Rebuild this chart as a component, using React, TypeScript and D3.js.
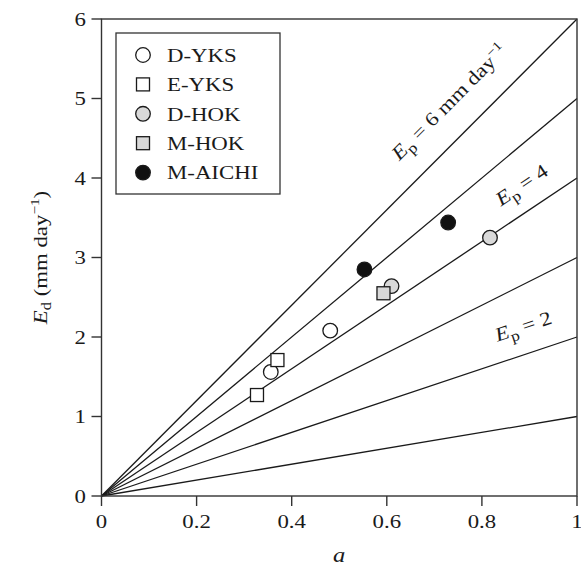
import React from 'react';
import * as d3 from 'd3';

// reference lines Ed = Ep * a
const potentialRates = [1, 2, 3, 4, 5, 6];

// axis ticks
const xTicks = [0, 0.2, 0.4, 0.6, 0.8, 1];
const xTickLabels = ['0', '0.2', '0.4', '0.6', '0.8', '1'];
const yTicks = [0, 1, 2, 3, 4, 5, 6];

// series (legend order)
const seriesNames = ['D-YKS', 'E-YKS', 'D-HOK', 'M-HOK', 'M-AICHI'];
const seriesShapes = ['circle', 'square', 'circle', 'square', 'circle'];
const seriesFills = ['#ffffff', '#ffffff', '#d9d9d9', '#d9d9d9', '#111111'];

const dYksA = [0.356, 0.481];
const dYksE = [1.56, 2.08];
const eYksA = [0.327, 0.37];
const eYksE = [1.27, 1.71];
const dHokA = [0.61, 0.817];
const dHokE = [2.64, 3.25];
const mHokA = [0.593];
const mHokE = [2.55];
const mAichiA = [0.553, 0.729];
const mAichiE = [2.85, 3.44];

const seriesA = [dYksA, eYksA, dHokA, mHokA, mAichiA];
const seriesE = [dYksE, eYksE, dHokE, mHokE, mAichiE];

// line labels: which line, where the text starts (data coords)
const labelRates = [6, 4, 2];
const labelA = [0.626, 0.84, 0.833];
const labelE = [4.21, 3.64, 1.94];
const labelTail = [' = 6 mm day', ' = 4', ' = 2'];
const labelSup = ['\u22121', '', ''];

const FONT = '"Liberation Serif", "Times New Roman", serif';
const STRETCH = 1.17;
const INK = '#1a1a1a';

function Marker({ shape, fill, cx, cy }: { shape: string; fill: string; cx: number; cy: number }) {
  if (shape === 'square') {
    return <rect x={cx - 6.5} y={cy - 6.5} width={13} height={13} fill={fill} stroke={INK} strokeWidth={1.3} />;
  }
  return <circle cx={cx} cy={cy} r={7.3} fill={fill} stroke={INK} strokeWidth={1.3} />;
}

export default function App() {
  const width = 581;
  const height = 571;

  const x = d3.scaleLinear().domain([0, 1]).range([101.5, 577]);
  const y = d3.scaleLinear().domain([0, 6]).range([496, 19]);

  return (
    <div style={{ position: 'absolute', left: 0, top: 0 }}>
      <svg width={width} height={height} style={{ display: 'block', background: '#fff' }} fontFamily={FONT}>
        {/* Ed = Ep * a lines */}
        {potentialRates.map(ep => (
          <path
            key={ep}
            d={d3.line<number>().x(a => x(a)).y(a => y(ep * a))([0, 1]) || ''}
            fill="none"
            stroke={INK}
            strokeWidth={1.3}
          />
        ))}

        {/* frame */}
        <rect
          x={x(0)}
          y={y(6)}
          width={x(1) - x(0)}
          height={y(0) - y(6)}
          fill="none"
          stroke="#333"
          strokeWidth={1.4}
        />

        {/* x ticks */}
        {xTicks.map((t, i) => (
          <g key={t}>
            <line x1={x(t)} x2={x(t)} y1={y(0)} y2={y(0) + 10} stroke="#333" strokeWidth={1.4} />
            <g transform={`translate(${x(t)},${528}) scale(${STRETCH},1)`}>
              <text textAnchor="middle" fontSize={19.5} fill={INK}>{xTickLabels[i]}</text>
            </g>
          </g>
        ))}

        {/* y ticks */}
        {yTicks.map(t => (
          <g key={t}>
            <line x1={x(0) - 10} x2={x(0)} y1={y(t)} y2={y(t)} stroke="#333" strokeWidth={1.4} />
            <g transform={`translate(${86},${y(t) + 6.5}) scale(${STRETCH},1)`}>
              <text textAnchor="end" fontSize={19.5} fill={INK}>{t}</text>
            </g>
          </g>
        ))}

        {/* axis titles */}
        <g transform={`translate(${(x(0) + x(1)) / 2},${562}) scale(${STRETCH},1)`}>
          <text textAnchor="middle" fontSize={21} fontStyle="italic" fill={INK}>a</text>
        </g>
        <g transform={`translate(${47},${(y(0) + y(6)) / 2}) rotate(-90) scale(${STRETCH},1)`}>
          <text textAnchor="middle" fontSize={19.5} fill={INK}>
            <tspan fontStyle="italic">E</tspan>
            <tspan fontSize={14} dy={4}>d</tspan>
            <tspan dy={-4}> (mm day</tspan>
            <tspan fontSize={13} dy={-8}>{'\u22121'}</tspan>
            <tspan dy={8}>)</tspan>
          </text>
        </g>

        {/* line labels */}
        {labelRates.map((ep, i) => {
          const angle = (Math.atan2(y(ep) - y(0), x(1) - x(0)) * 180) / Math.PI;
          return (
            <g key={ep} transform={`translate(${x(labelA[i])},${y(labelE[i])}) rotate(${angle}) scale(${STRETCH},1)`}>
              <text fontSize={19.5} fill={INK}>
                <tspan fontStyle="italic">E</tspan>
                <tspan fontSize={15} dy={5}>p</tspan>
                <tspan dy={-5}>{labelTail[i]}</tspan>
                {labelSup[i] && <tspan fontSize={13} dy={-8}>{labelSup[i]}</tspan>}
              </text>
            </g>
          );
        })}

        {/* data points */}
        {seriesNames.map((name, s) =>
          seriesA[s].map((a, j) => (
            <Marker key={`${name}-${j}`} shape={seriesShapes[s]} fill={seriesFills[s]} cx={x(a)} cy={y(seriesE[s][j])} />
          ))
        )}

        {/* legend */}
        <rect x={116} y={33} width={164} height={161} fill="#fff" stroke="#333" strokeWidth={1.3} />
        {seriesNames.map((name, i) => {
          const ry = 55 + i * 29.4;
          return (
            <g key={name}>
              <Marker shape={seriesShapes[i]} fill={seriesFills[i]} cx={143} cy={ry} />
              <g transform={`translate(${167},${ry + 6.8}) scale(${STRETCH},1)`}>
                <text fontSize={19.5} fill={INK}>{name}</text>
              </g>
            </g>
          );
        })}
      </svg>
    </div>
  );
}
